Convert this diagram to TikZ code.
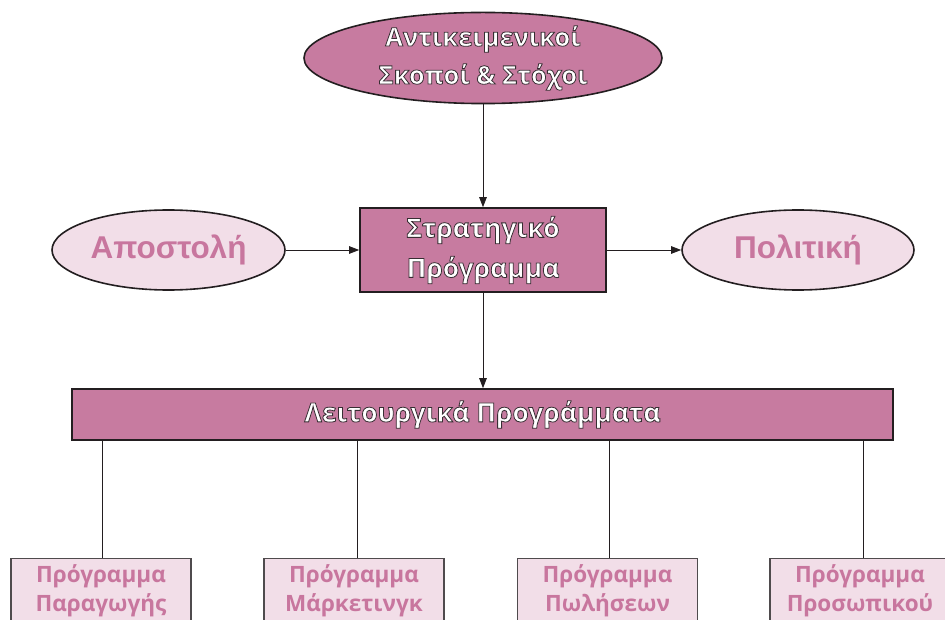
\documentclass[tikz,border=0pt]{standalone}
\usepackage{fontspec}
\setmainfont{Liberation Sans}
\newfontfamily\hum{Open Sans}
\usetikzlibrary{shapes.geometric,arrows.meta}
\definecolor{dpink}{RGB}{199,123,160}
\definecolor{lpink}{RGB}{242,222,232}
\definecolor{tpink}{RGB}{200,118,158}
\definecolor{edgec}{RGB}{35,30,32}
\newcommand\shl[1]{{\color{white}\special{pdf:literal direct 2 Tr 0.8 w 0.22 0.18 0.2 RG}#1\special{pdf:literal direct 0 Tr}}}
\tikzset{
  darkell/.style={ellipse, draw=edgec, line width=1.6pt, fill=dpink, inner sep=0pt, align=center},
  lightell/.style={ellipse, draw=edgec, line width=1.6pt, fill=lpink, inner sep=0pt, text=tpink, font=\fontsize{31.5}{36}\selectfont\bfseries},
  darkbox/.style={rectangle, draw=edgec, line width=1.6pt, fill=dpink, inner sep=0pt, align=center},
  progbox/.style={rectangle, draw=edgec!80, line width=1.2pt, fill=lpink, inner sep=0pt, align=center, text=tpink, minimum width=180pt, minimum height=64pt, anchor=north, font=\hum\bfseries\fontsize{22.5}{29}\selectfont},
  arr/.style={line width=0.9pt, draw=edgec, -{Triangle[length=10pt,width=7.5pt]}},
  conn/.style={line width=0.9pt, draw=edgec}
}
\begin{document}
\begin{tikzpicture}[x=1pt,y=-1pt]
\useasboundingbox (0,0) rectangle (945,620);
\clip (0,0) rectangle (945,620);
\node[darkell, minimum width=358pt, minimum height=90pt, font=\hum\bfseries\fontsize{25.5}{38}\selectfont] (obj) at (483,58) {\shl{Αντικειμενικοί}\\\shl{Σκοποί \& Στόχοι}};
\node[darkbox, minimum width=246pt, minimum height=84pt, font=\hum\bfseries\fontsize{26.5}{40}\selectfont] (strat) at (483,250) {\shl{Στρατηγικό}\\\shl{Πρόγραμμα}};
\node[lightell, minimum width=233pt, minimum height=80pt] (miss) at (168.5,250) {Αποστολή};
\node[lightell, minimum width=232pt, minimum height=80pt] (pol) at (798,250) {Πολιτική};
\node[darkbox, minimum width=821pt, minimum height=51pt, font=\hum\bfseries\fontsize{26.5}{30}\selectfont] (ops) at (482.5,414.5) {\shl{Λειτουργικά Προγράμματα}};
\node[progbox] (p1) at (101,558) {Πρόγραμμα\\Παραγωγής};
\node[progbox] (p2) at (354,558) {Πρόγραμμα\\Μάρκετινγκ};
\node[progbox] (p3) at (607.5,558) {Πρόγραμμα\\Πωλήσεων};
\node[progbox] (p4) at (860,558) {Πρόγραμμα\\Προσωπικού};
\draw[arr] (obj.south) -- (strat.north);
\draw[arr] (miss.east) -- (strat.west);
\draw[arr] (strat.east) -- (pol.west);
\draw[arr] (strat.south) -- (ops.north -| strat.south);
\foreach \p/\s in {p1/1pt,p2/3pt,p3/2pt,p4/3pt} {
  \coordinate (c\p) at ([xshift=\s]\p.north);
  \draw[conn] (c\p |- ops.south) -- (c\p);
}
\end{tikzpicture}
\end{document}
